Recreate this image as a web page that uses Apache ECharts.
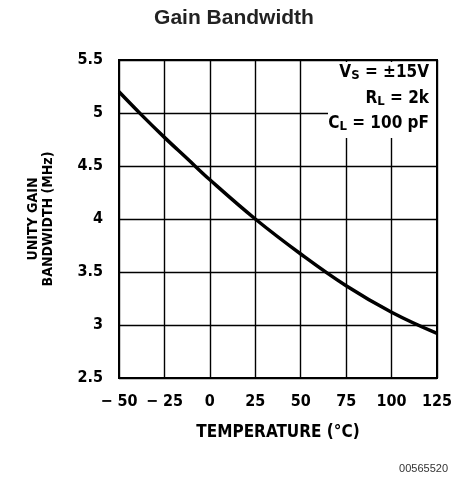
<!DOCTYPE html>
<html>
<head>
<meta charset="utf-8">
<script src="https://cdn.jsdelivr.net/npm/echarts@6/dist/echarts.min.js"></script>
<style>html,body{margin:0;padding:0;background:#fff}#c{width:456px;height:478px}</style>
</head>
<body>
<div id="c"></div>
<script>
var temperature = [-50, -37.5, -25, -12.5, 0, 25, 50, 75, 100, 125];
var bandwidth = [5.2, 4.98, 4.77, 4.57, 4.37, 4.0, 3.67, 3.37, 3.12, 2.92];
var xTicks = [-50, -25, 0, 25, 50, 75, 100, 125];
var xTickLabels = ['\u2212 50', '\u2212 25', '0', '25', '50', '75', '100', '125'];
var yTickLabels = ['2.5', '3', '3.5', '4', '4.5', '5', '5.5'];

var F = "'Liberation Sans Narrow','DejaVu Sans Condensed','Liberation Sans',sans-serif";
var chart = echarts.init(document.getElementById('c'), null, {renderer: 'canvas'});
var pts = temperature.map(function (t, i) { return [t, bandwidth[i]]; });

function annot(main, sub, rest, top) {
  return {type: 'text', right: 27, top: top, z: 11, style: {
    text: '{m|' + main + '}{s|' + sub + '}{m|' + rest + '}', fill: '#000',
    rich: {
      m: {fontFamily: F, fontWeight: 'bold', fontSize: 17, lineHeight: 20, verticalAlign: 'middle', fill: '#000'},
      s: {fontFamily: F, fontWeight: 'bold', fontSize: 13, lineHeight: 10, verticalAlign: 'bottom', fill: '#000'}
    }}};
}

chart.setOption({
  animation: false,
  backgroundColor: '#fff',
  title: {
    text: 'Gain Bandwidth', left: 229, top: 3, textAlign: 'center',
    textStyle: {fontFamily: "'Liberation Sans',Arial,sans-serif", fontWeight: 'bold', fontSize: 21, color: '#222'}
  },
  grid: {left: 119, right: 19, top: 60, bottom: 100, show: true, borderColor: '#000', borderWidth: 2},
  xAxis: {
    type: 'value', min: -50, max: 125, interval: 25,
    name: 'TEMPERATURE (\u00b0C)', nameLocation: 'middle', nameGap: 46,
    nameTextStyle: {fontFamily: F, fontWeight: 'bold', fontSize: 17, color: '#000'},
    axisLine: {show: false}, axisTick: {show: false},
    axisLabel: {margin: 16, fontFamily: F, fontWeight: 'bold', fontSize: 16, color: '#000',
      formatter: function (v) { var i = xTicks.indexOf(v); return i >= 0 ? xTickLabels[i] : ''; }},
    splitLine: {show: true, lineStyle: {color: '#000', width: 1.4}}
  },
  yAxis: {
    type: 'value', min: 2.5, max: 5.5, interval: 0.5,
    name: 'UNITY GAIN\nBANDWIDTH (MHz)', nameLocation: 'middle', nameGap: 63, nameRotate: 90,
    nameTextStyle: {fontFamily: F, fontWeight: 'bold', fontSize: 14, color: '#000', lineHeight: 15},
    axisLine: {show: false}, axisTick: {show: false},
    axisLabel: {margin: 16, fontFamily: F, fontWeight: 'bold', fontSize: 16, color: '#000',
      formatter: function (v) { var i = Math.round((v - 2.5) / 0.5); return yTickLabels[i]; }},
    splitLine: {show: true, lineStyle: {color: '#000', width: 1.4}}
  },
  series: [{
    type: 'line', data: pts, smooth: 0.4, showSymbol: false,
    lineStyle: {color: '#000', width: 3.5}, z: 5
  }],
  graphic: [
    {type: 'rect', shape: {x: 328, y: 62, width: 108, height: 76}, style: {fill: '#fff'}, z: 10},
    annot('V', 'S', ' = \u00b115V', 64),
    annot('R', 'L', ' = 2k', 90),
    annot('C', 'L', ' = 100 pF', 115),
    {type: 'text', right: 8, top: 463, style: {text: '00565520', font: '11px "Liberation Sans",Arial,sans-serif', fill: '#333'}}
  ]
});
</script>
</body>
</html>
